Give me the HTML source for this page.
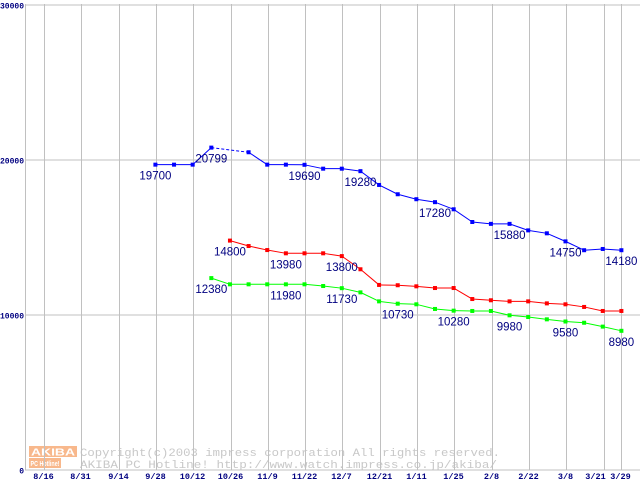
<!DOCTYPE html>
<html><head><meta charset="utf-8"><style>
html,body{margin:0;padding:0;background:#fff;width:640px;height:480px;overflow:hidden}
svg{display:block}
</style></head><body>
<svg id="chart" width="640" height="480" xmlns="http://www.w3.org/2000/svg" font-family="Liberation Sans, sans-serif">
<g id="watermark">
  <rect x="29" y="446" width="48" height="11" fill="#f8b88c"/>
  <text x="53" y="455.5" font-size="10" font-weight="bold" fill="#fff" text-anchor="middle" textLength="44" lengthAdjust="spacingAndGlyphs">AKIBA</text>
  <rect x="29" y="458" width="32" height="10" fill="#f8b88c"/>
  <text x="45" y="466" font-size="7" font-weight="bold" fill="#fff" text-anchor="middle" textLength="29" lengthAdjust="spacingAndGlyphs">PC Hotline!</text>
  <text x="80" y="456" font-size="11" font-family="Liberation Mono, monospace" fill="#c8c8c8" textLength="420" lengthAdjust="spacingAndGlyphs">Copyright(c)2003 impress corporation All rights reserved.</text>
  <text x="80" y="468" font-size="11" font-family="Liberation Mono, monospace" fill="#c8c8c8" textLength="417" lengthAdjust="spacingAndGlyphs">AKIBA PC Hotline!  http://www.watch.impress.co.jp/akiba/</text>
</g>
<g id="grid"></g>
<g id="series"></g>
<g id="labels"></g>
</svg>
<script>
const xTickLabels = ["8/16","8/31","9/14","9/28","10/12","10/26","11/9","11/22","12/7","12/21","1/11","1/25","2/8","2/22","3/8","3/21","3/29"];
const yTicks = [0,10000,20000,30000];
const blueValues = [19700,19700,19700,20799,null,20500,19700,19700,19690,19440,19440,19280,18390,17790,17470,17280,16820,16000,15880,15880,15460,15270,14750,14180,14260,14180];
const redValues = [null,null,null,null,14800,14450,14190,13980,13980,13980,13800,12950,11940,11920,11850,11740,11740,11030,10950,10880,10880,10750,10690,10520,10260,10260];
const greenValues = [null,null,null,12380,11980,11980,11980,11980,11980,11870,11730,11460,10880,10730,10690,10390,10280,10260,10260,9980,9870,9720,9580,9500,9250,8980];
const blueLabelIdx = [0,3,8,11,15,19,22,25];
const redLabelIdx = [4,7,10];
const greenLabelIdx = [3,7,10,13,16,19,22,25];

const NS="http://www.w3.org/2000/svg";
const yPix = v => 470 - v*0.0155;
const xPix = i => 155.4 + i*18.64;
const tickX = k => k<16 ? 44 + k*37.3 : 621;
function mk(tag, attrs, parent){const e=document.createElementNS(NS,tag);for(const k in attrs)e.setAttribute(k,attrs[k]);parent.appendChild(e);return e;}
const grid=document.getElementById('grid'), ser=document.getElementById('series'), lab=document.getElementById('labels');

yTicks.forEach(v=>{
  const y=yPix(v);
  const l=mk('line',{x1:25,x2:640,y1:y,y2:y,stroke:'#c0c0c0','stroke-width':1},grid);
  
  
  const t=mk('text',{x:24,y:y+3.5,'font-size':8,'font-weight':'bold',fill:'#000080','text-anchor':'end','font-family':'Liberation Mono, monospace'},grid);
  t.textContent=v;
  t.setAttribute('textLength',String(v).length*4.8);
  t.setAttribute('lengthAdjust','spacingAndGlyphs');
  
  
});
const ax=mk('line',{x1:25.5,x2:25.5,y1:4,y2:470,stroke:'#c0c0c0'},grid);


xTickLabels.forEach((s,k)=>{
  const x=Math.round(tickX(k))+0.5;
  const l=mk('line',{x1:x,x2:x,y1:4,y2:470,stroke:'#c0c0c0'},grid);
  
  
  const t=mk('text',{x:k===15?x-9:x-1,y:479,'font-size':8.5,'font-weight':'bold',fill:'#000080','text-anchor':'middle','font-family':'Liberation Mono, monospace'},grid);
  t.textContent=s;
  
  
});

function drawSeries(vals,color,name,labelIdx){
  for(let i=0;i<vals.length-1;i++){
    if(vals[i]==null) continue;
    let j=i+1; while(j<vals.length && vals[j]==null) j++;
    if(j>=vals.length) break;
    const l=mk('line',{x1:xPix(i),y1:yPix(vals[i]),x2:xPix(j),y2:yPix(vals[j]),stroke:color,'stroke-width':1},ser);
    if(j>i+1) l.setAttribute('stroke-dasharray','3,2');
    
    
  }
  vals.forEach((v,i)=>{
    if(v==null) return;
    const r=mk('rect',{x:xPix(i)-2,y:yPix(v)-2,width:4,height:4,fill:color},ser);
    
    
  });
  labelIdx.forEach(i=>{
    const t=mk('text',{x:xPix(i),y:yPix(vals[i])+15,'font-size':11.5,fill:'#000080','text-anchor':'middle'},lab);
    t.textContent=vals[i];
    
    
  });
}
drawSeries(blueValues,'#0000ff','blue-series',blueLabelIdx);
drawSeries(redValues,'#ff0000','red-series',redLabelIdx);
drawSeries(greenValues,'#00ff00','green-series',greenLabelIdx);
</script>
</body></html>
